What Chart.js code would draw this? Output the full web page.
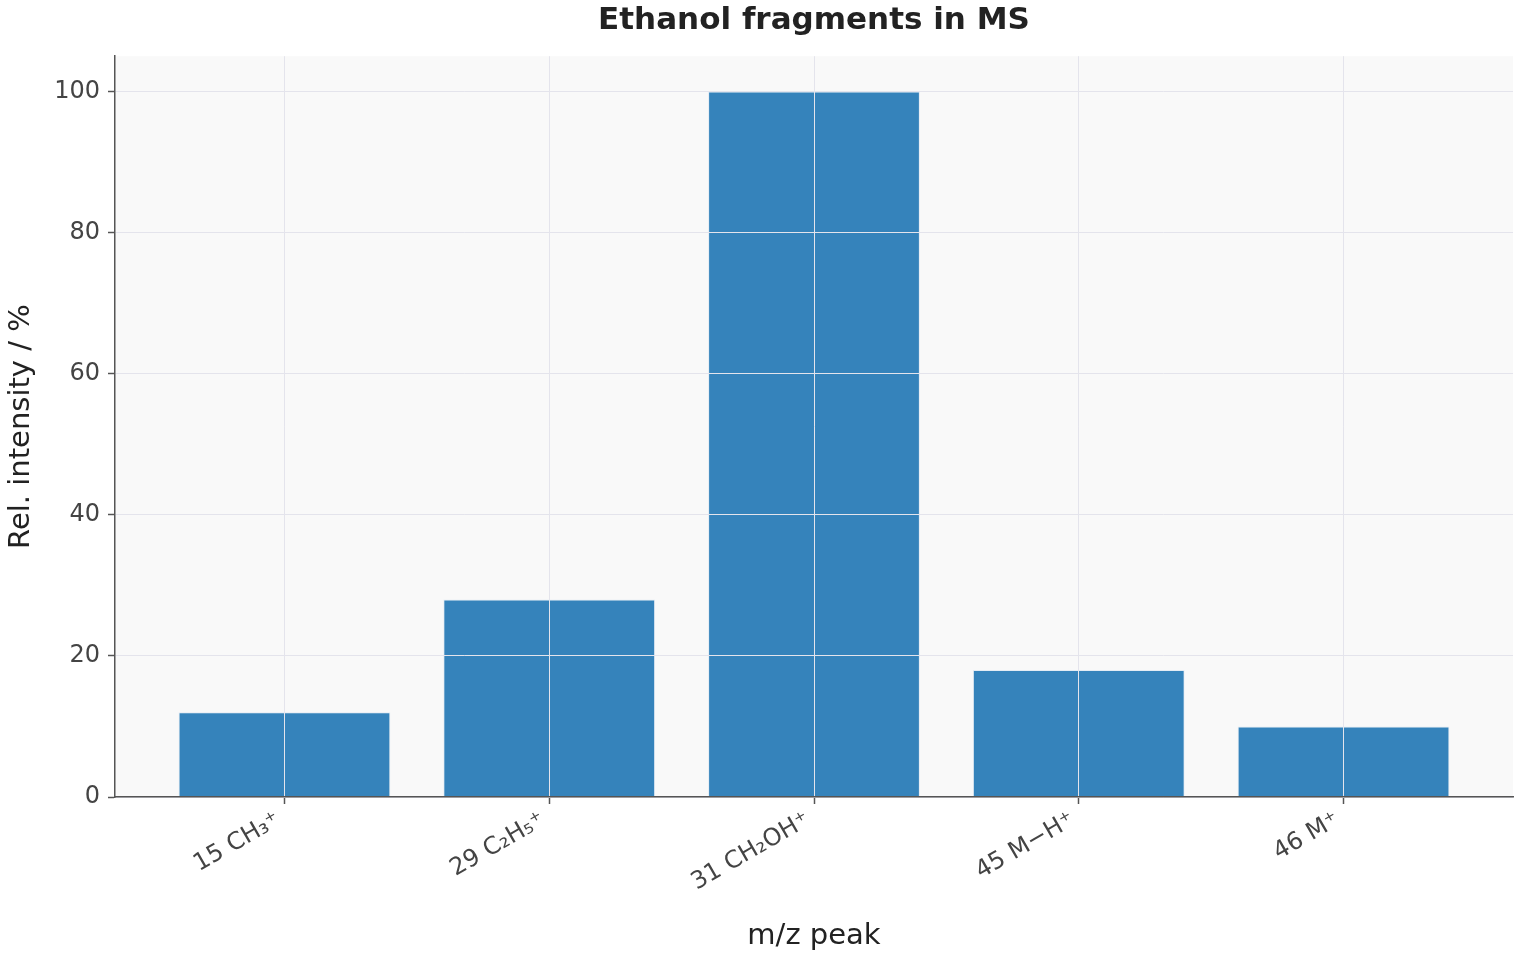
<!DOCTYPE html>
<html>
<head>
<meta charset="utf-8">
<script src="https://cdn.jsdelivr.net/npm/chart.js@4/dist/chart.umd.min.js"></script>
<style>
  html, body { margin: 0; padding: 0; background: #fff; }
  #wrap { width: 1520px; height: 960px; }
</style>
</head>
<body>
<div id="wrap"><canvas id="myChart" width="1520" height="960"></canvas></div>
<script>
// data
var categories = ['15 CH\u2083\u207A', '29 C\u2082H\u2085\u207A', '31 CH\u2082OH\u207A', '45 M\u2212H\u207A', '46 M\u207A'];
var intensities = [12, 28, 100, 18, 10];
var yTicks = [0, 20, 40, 60, 80, 100];

var FONT = "'DejaVu Sans', sans-serif";

// light plot background behind the bars
var plotBg = {
    id: 'plotBg',
    beforeDraw: function(chart) {
        var a = chart.chartArea;
        var c = chart.ctx;
        c.save();
        c.fillStyle = '#f9f9f9';
        c.fillRect(a.left, a.top, a.right - a.left, a.bottom - a.top);
        c.restore();
    }
};

var points = intensities.map(function(v, i) { return { x: i, y: v }; });

var ctx = document.getElementById('myChart').getContext('2d');
var myChart = new Chart(ctx, {
    type: 'bar',
    data: {
        datasets: [{
            data: points,
            backgroundColor: '#3583bb',
            borderColor: '#e4ecf4',
            borderWidth: 1,
            barPercentage: 0.8,
            categoryPercentage: 1.0
        }]
    },
    plugins: [plotBg],
    options: {
        responsive: false,
        animation: false,
        devicePixelRatio: 1,
        layout: { padding: { left: 0, right: 7, top: 0, bottom: 0 } },
        plugins: {
            legend: { display: false },
            tooltip: { enabled: false },
            title: {
                display: true,
                fullSize: false,
                text: 'Ethanol fragments in MS',
                color: '#222',
                font: { family: FONT, size: 31, weight: 'bold' },
                padding: { top: 2, bottom: 17 }
            }
        },
        scales: {
            x: {
                type: 'linear',
                min: -0.64,
                max: 4.64,
                offset: false,
                z: 1,
                afterBuildTicks: function(scale) {
                    scale.ticks = categories.map(function(c, i) { return { value: i }; });
                },
                afterFit: function(scale) { scale.height = 163; },
                ticks: {
                    color: '#444',
                    font: { family: FONT, size: 24 },
                    minRotation: 30,
                    maxRotation: 30,
                    padding: 2,
                    labelOffset: -6,
                    callback: function(v) { return categories[v]; }
                },
                grid: {
                    offset: false,
                    z: 1,
                    color: '#e4e4ec',
                    lineWidth: 1,
                    tickColor: '#555',
                    tickLength: 7,
                    tickWidth: 1.5
                },
                border: { color: '#555', width: 1.5, z: 2 },
                title: {
                    display: true,
                    text: 'm/z peak',
                    color: '#222',
                    font: { family: FONT, size: 29 },
                    padding: { top: 0, bottom: 6 }
                }
            },
            y: {
                min: 0,
                max: 105,
                z: 1,
                afterBuildTicks: function(scale) {
                    scale.ticks = yTicks.map(function(v) { return { value: v }; });
                },
                afterFit: function(scale) { scale.width = 115; },
                ticks: {
                    color: '#444',
                    font: { family: FONT, size: 24 },
                    padding: 8
                },
                grid: {
                    z: 1,
                    color: '#e4e4ec',
                    lineWidth: 1,
                    tickColor: '#555',
                    tickLength: 7,
                    tickWidth: 1.5
                },
                border: { color: '#555', width: 1.5, z: 2 },
                title: {
                    display: true,
                    text: 'Rel. intensity / %',
                    color: '#222',
                    font: { family: FONT, size: 29 },
                    padding: { top: 4, bottom: 0 }
                }
            }
        }
    }
});
</script>
</body>
</html>
